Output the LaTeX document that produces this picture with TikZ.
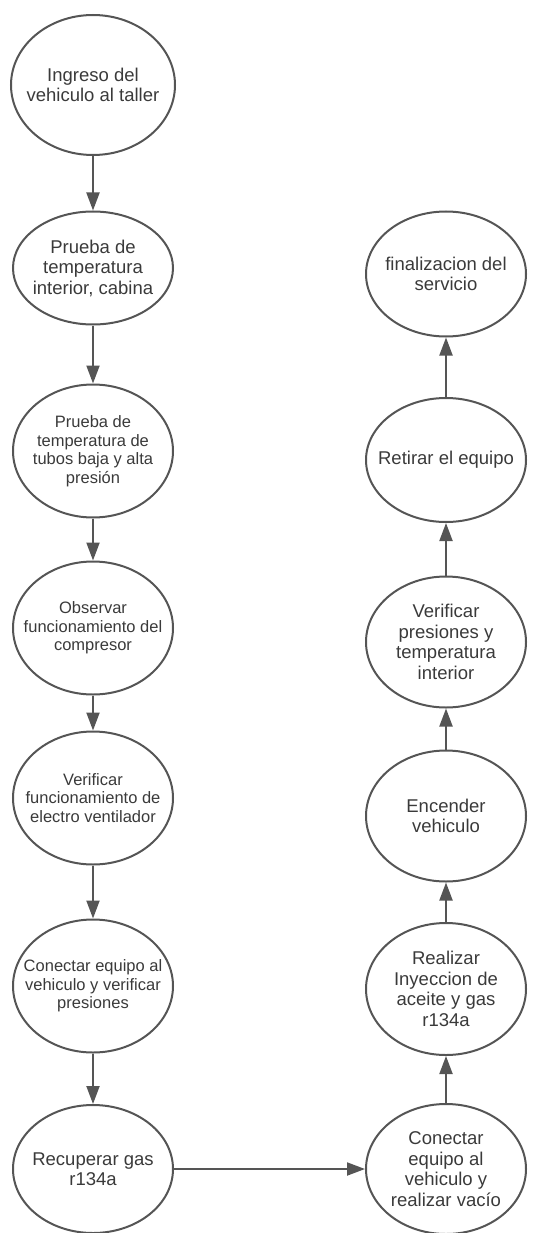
\documentclass[tikz,border=0pt]{standalone}
\usepackage{fontspec}
\setmainfont{Liberation Sans}
\usetikzlibrary{shapes.geometric,arrows.meta}
\definecolor{borde}{HTML}{555555}
\definecolor{texto}{HTML}{3A3A3A}

\begin{document}
\begin{tikzpicture}[
    x=1pt, y=-1pt,
    paso/.style={ellipse, draw=borde, line width=2pt, text=texto, inner sep=-20pt,
        minimum width=160pt, minimum height=133pt, align=center,
        font=\fontsize{18.5}{20.5}\selectfont}, % Estilo para los pasos
    chico/.style={font=\fontsize{16.5}{18.5}\selectfont}, % Texto mas pequeno
    flecha/.style={draw=borde, line width=2pt, -{Triangle[length=18pt,width=13pt]}} % Estilo para las flechas
]
    \useasboundingbox (0,0) rectangle (535,1233);

    % Columna izquierda (hacia abajo)
    \node[paso, minimum height=140pt, minimum width=164pt] (ingreso) at (93,85) {Ingreso del\\vehiculo al taller};
    \node[paso, minimum height=113pt] (cabina) at (93,268) {Prueba de\\temperatura\\interior, cabina};
    \node[paso, chico] (tubos) at (93,451) {Prueba de\\temperatura de\\tubos baja y alta\\presión};
    \node[paso, chico] (compresor) at (93,628) {Observar\\funcionamiento del\\compresor};
    \node[paso, chico] (ventilador) at (93,798) {Verificar\\funcionamiento de\\electro ventilador};
    \node[paso, chico] (conectar) at (93,986) {Conectar equipo al\\vehiculo y verificar\\presiones};
    \node[paso, minimum height=128pt] (recuperar) at (93,1169) {Recuperar gas\\r134a};

    % Columna derecha (hacia arriba)
    \node[paso, minimum height=130pt] (vacio) at (446,1169) {Conectar\\equipo al\\vehiculo y\\realizar vacío};
    \node[paso, minimum height=132pt] (inyeccion) at (446,989) {Realizar\\Inyeccion de\\aceite y gas\\r134a};
    \node[paso, minimum height=131pt] (encender) at (446,816) {Encender\\vehiculo};
    \node[paso, minimum height=131pt] (presiones) at (446,642) {Verificar\\presiones y\\temperatura\\interior};
    \node[paso, minimum height=124pt] (retirar) at (446,460) {Retirar el equipo};
    \node[paso, minimum height=125pt] (fin) at (446,274) {finalizacion del\\servicio};

    % Flechas
    \draw[flecha] (ingreso) -- (cabina);
    \draw[flecha] (cabina) -- (tubos);
    \draw[flecha] (tubos) -- (compresor);
    \draw[flecha] (compresor) -- (ventilador);
    \draw[flecha] (ventilador) -- (conectar);
    \draw[flecha] (conectar) -- (recuperar);
    \draw[flecha] (recuperar) -- (vacio);
    \draw[flecha] (vacio) -- (inyeccion);
    \draw[flecha] (inyeccion) -- (encender);
    \draw[flecha] (encender) -- (presiones);
    \draw[flecha] (presiones) -- (retirar);
    \draw[flecha] (retirar) -- (fin);

\end{tikzpicture}
\end{document}
